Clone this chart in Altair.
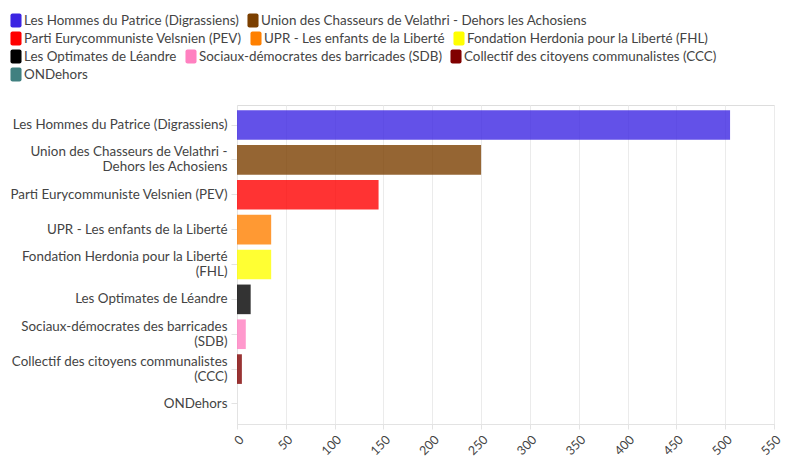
import altair as alt
import pandas as pd

parties = [
    "Les Hommes du Patrice (Digrassiens)",
    "Union des Chasseurs de Velathri - Dehors les Achosiens",
    "Parti Eurycommuniste Velsnien (PEV)",
    "UPR - Les enfants de la Liberté",
    "Fondation Herdonia pour la Liberté (FHL)",
    "Les Optimates de Léandre",
    "Sociaux-démocrates des barricades (SDB)",
    "Collectif des citoyens communalistes (CCC)",
    "ONDehors",
]
axis_labels = [
    "Les Hommes du Patrice (Digrassiens)",
    "Union des Chasseurs de Velathri -|Dehors les Achosiens",
    "Parti Eurycommuniste Velsnien (PEV)",
    "UPR - Les enfants de la Liberté",
    "Fondation Herdonia pour la Liberté|(FHL)",
    "Les Optimates de Léandre",
    "Sociaux-démocrates des barricades|(SDB)",
    "Collectif des citoyens communalistes|(CCC)",
    "ONDehors",
]
seats = [505, 250, 145, 35, 35, 14, 9, 5, 0]
colors = ["#3c25e2", "#7b3f00", "#ff0000", "#ff8000", "#ffff00",
          "#000000", "#ff80c0", "#800000", "#408080"]
legend_rows = [[0, 1], [2, 3, 4], [5, 6, 7], [8]]
x_ticks = list(range(0, 551, 50))

df = pd.DataFrame({"party": parties, "seats": seats, "label": axis_labels})

FONT = "Lato"
FS = 13.4
TXT = "#444444"
SYMBOL = ("M-0.5,-1H0.5Q0.79,-1 0.79,-0.7V0.7Q0.79,1 0.5,1H-0.5"
          "Q-0.79,1 -0.79,0.7V-0.7Q-0.79,-1 -0.5,-1Z")

x_enc = alt.X(
    "seats:Q",
    scale=alt.Scale(domain=[0, 550], nice=False),
    axis=alt.Axis(values=x_ticks, labelAngle=-45, title=None, grid=True,
                  gridColor="#ebebeb", domainColor="#e3e3e3", tickColor="#e3e3e3",
                  tickSize=5, labelFont=FONT, labelFontSize=12.5, labelColor=TXT,
                  labelPadding=4),
)
y_enc = alt.Y(
    "label:N",
    sort=axis_labels,
    scale=alt.Scale(paddingInner=0.15, paddingOuter=0.15),
    axis=alt.Axis(title=None, labelExpr="split(datum.label, '|')", labelFont=FONT,
                  labelFontSize=FS, labelColor=TXT, labelLineHeight=15,
                  labelOffset={"condition": {"test": "indexof(datum.value, '|') >= 0",
                                             "value": -7.5}, "value": 0},
                  tickColor="#e3e3e3", tickSize=6, domainColor="#e3e3e3",
                  labelPadding=4, labelLimit=400),
)

color_scale = alt.Scale(domain=parties, range=colors)

base = alt.Chart(df)
bars = base.mark_bar(opacity=0.8).encode(
    x=x_enc, y=y_enc,
    color=alt.Color("party:N", scale=color_scale, legend=None),
)

layers = [bars]
for i, row in enumerate(legend_rows):
    leg = alt.Legend(
        values=[parties[j] for j in row], orient="none", legendX=-228,
        legendY=-91.5 + 18 * i, direction="horizontal", columns=len(row),
        title=None, symbolType=SYMBOL, symbolSize=196, symbolStrokeWidth=0,
        labelFont=FONT, labelFontSize=FS, labelColor=TXT, labelOffset=1,
        columnPadding=7, padding=0, labelLimit=500,
    )
    layers.append(
        base.transform_filter("datum.seats < 0").mark_bar().encode(
            x=x_enc, y=y_enc,
            color=alt.Color("party:N", scale=color_scale, legend=leg),
        )
    )

chart = alt.layer(*layers).resolve_scale(color="independent").properties(
    width=537, height=319,
    autosize=alt.AutoSizeParams(type="none"),
    padding={"left": 229, "top": 97, "right": 14, "bottom": 36},
).configure_view(stroke=None).configure(background="white")

chart.save("out.html", embed_options={"renderer": "svg", "actions": False})
